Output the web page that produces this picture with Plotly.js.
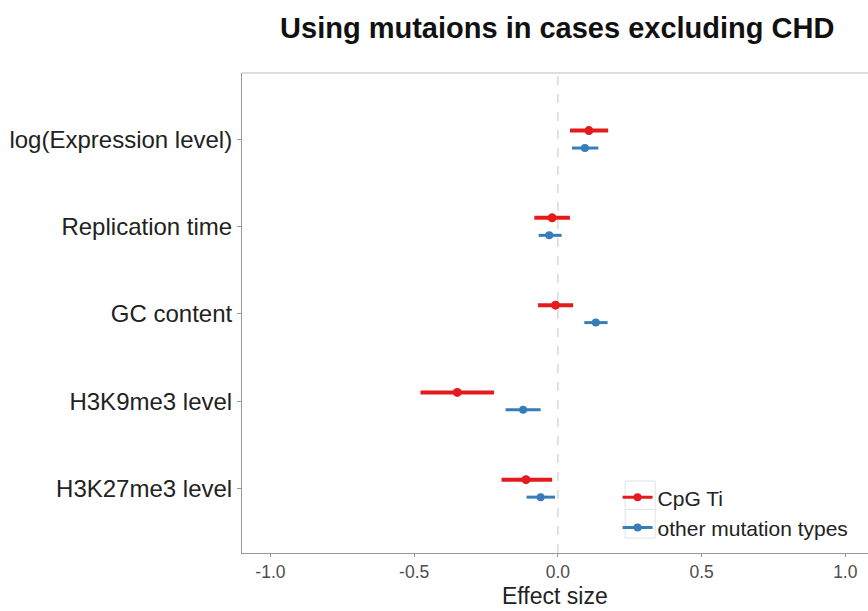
<!DOCTYPE html>
<html>
<head>
<meta charset="utf-8">
<script src="https://cdn.plot.ly/plotly-3.0.1.min.js"></script>
<style>html,body{margin:0;padding:0;background:#fff;overflow:hidden}</style>
</head>
<body>
<div id="chart" style="width:868px;height:611px"></div>
<script>
// Categories (top to bottom)
const categories = ["log(Expression level)", "Replication time", "GC content", "H3K9me3 level", "H3K27me3 level"];
// CpG Ti
const cpgEst = [0.108, -0.020, -0.008, -0.350, -0.111];
const cpgLo  = [0.042, -0.082, -0.069, -0.478, -0.196];
const cpgHi  = [0.175,  0.042,  0.053, -0.222, -0.020];
// other mutation types
const othEst = [0.094, -0.030, 0.132, -0.121, -0.060];
const othLo  = [0.049, -0.067, 0.092, -0.182, -0.109];
const othHi  = [0.141,  0.013, 0.173, -0.060, -0.010];
const xTicks = [-1.0, -0.5, 0.0, 0.5, 1.0];
const xTickText = ["-1.0", "-0.5", "0.0", "0.5", "1.0"];

const RED = "#E41A1C", BLUE = "#377EB8";
const n = categories.length;
const pos = categories.map((c, i) => n - i);
const dodge = 0.1;

function errTrace(est, lo, hi, off, color, thick, msize) {
  return {
    type: "scatter", mode: "markers",
    x: est, y: pos.map(p => p + off),
    marker: {color: color, size: msize},
    error_x: {type: "data", symmetric: false,
      array: hi.map((h, i) => h - est[i]),
      arrayminus: lo.map((l, i) => est[i] - l),
      color: color, thickness: thick, width: 0},
    showlegend: false, hoverinfo: "x+y", cliponaxis: false
  };
}
const traces = [
  errTrace(cpgEst, cpgLo, cpgHi, dodge, RED, 4, 9),
  errTrace(othEst, othLo, othHi, -dodge, BLUE, 3, 8),
  {type: "scatter", mode: "lines+markers", name: "CpG Ti", x: [null], y: [null],
   line: {color: RED, width: 3}, marker: {color: RED, size: 8}},
  {type: "scatter", mode: "lines+markers", name: "other mutation types", x: [null], y: [null],
   line: {color: BLUE, width: 3}, marker: {color: BLUE, size: 8}}
];

const layout = {
  width: 868, height: 611,
  margin: {l: 242, r: 0, t: 73, b: 58},
  paper_bgcolor: "#fff", plot_bgcolor: "#fff",
  font: {family: "Liberation Sans, Arial, sans-serif", color: "#333"},
  title: {text: "<b>Using mutaions in cases excluding CHD</b>",
    font: {size: 29, color: "#111"}, xref: "container", yref: "container",
    x: 0.642, xanchor: "center", y: 0.954, yanchor: "middle"},
  xaxis: {range: [-1.099, 1.079], tickvals: xTicks, ticktext: xTickText,
    showgrid: false, zeroline: false, showline: true, linecolor: "#999", linewidth: 1,
    ticks: "outside", ticklen: 3, tickcolor: "#999",
    tickfont: {size: 17.5, color: "#4d4d4d"}},
  yaxis: {range: [0.26, 5.76], tickvals: pos, ticktext: categories,
    showgrid: false, zeroline: false, showline: true, linecolor: "#999", linewidth: 1,
    ticks: "outside", ticklen: 4, tickcolor: "#999",
    tickfont: {size: 24, color: "#222"}},
  annotations: [
    {text: "Effect size", xref: "paper", yref: "paper", x: 0.5, y: -0.119,
     xanchor: "center", yanchor: "bottom", showarrow: false, borderpad: 0,
     font: {size: 23, color: "#222"}}
  ],
  shapes: [
    {type: "line", xref: "x", yref: "paper", x0: 0, x1: 0, y0: 0, y1: 1,
     line: {color: "#d9d9d9", width: 1.5, dash: "dash"}, layer: "below"},
    {type: "line", xref: "paper", yref: "paper", x0: 0, x1: 1.01, y0: 1, y1: 1,
     line: {color: "#bbb", width: 1}},
    {type: "rect", xref: "paper", yref: "paper", x0: 0.612, x1: 0.66, y0: 0.031, y1: 0.15,
     line: {color: "#e3e3e3", width: 1}, layer: "below"},
    {type: "line", xref: "paper", yref: "paper", x0: 0.612, x1: 0.66, y0: 0.0905, y1: 0.0905,
     line: {color: "#e3e3e3", width: 1}, layer: "below"}
  ],
  legend: {x: 0.6, y: 0.158, xanchor: "left", yanchor: "top",
    bgcolor: "rgba(255,255,255,0)", borderwidth: 0,
    font: {size: 21, color: "#222"}, tracegroupgap: 0, itemwidth: 30},
  showlegend: true
};

Plotly.newPlot("chart", traces, layout, {displayModeBar: false, staticPlot: true});
</script>
</body>
</html>
